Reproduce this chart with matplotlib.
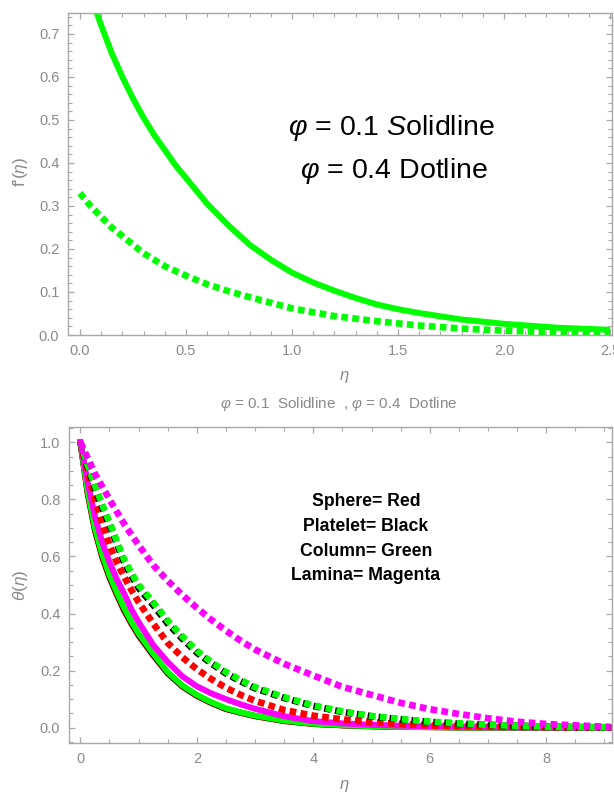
import matplotlib
matplotlib.use("Agg")
import matplotlib.pyplot as plt
from matplotlib.ticker import MultipleLocator

plt.rcParams['font.family'] = ['Liberation Sans', 'DejaVu Sans']
plt.rcParams['mathtext.fontset'] = 'custom'
plt.rcParams['mathtext.rm'] = 'Liberation Sans'
plt.rcParams['mathtext.it'] = 'Liberation Sans:italic'
plt.rcParams['mathtext.bf'] = 'Liberation Sans:bold'

# ---------------- data: top panel f'(eta) ----------------
eta_top_s = [0.0, 0.05, 0.1, 0.15, 0.2, 0.25, 0.3, 0.35, 0.4, 0.45, 0.5, 0.6, 0.7, 0.8,
             0.9, 1.0, 1.1, 1.2, 1.3, 1.4, 1.5, 1.6, 1.8, 2.0, 2.25, 2.5]
fp_phi01 = [0.87, 0.79, 0.72, 0.655, 0.60, 0.55, 0.505, 0.465, 0.43, 0.395, 0.365, 0.305,
            0.255, 0.21, 0.175, 0.145, 0.122, 0.103, 0.086, 0.071, 0.060, 0.051, 0.036,
            0.026, 0.017, 0.012]
eta_top_d = [0.0, 0.05, 0.1, 0.15, 0.2, 0.25, 0.3, 0.4, 0.5, 0.6, 0.7, 0.8, 0.9, 1.0,
             1.2, 1.4, 1.6, 1.8, 2.0, 2.25, 2.5]
fp_phi04 = [0.33, 0.30, 0.275, 0.25, 0.23, 0.21, 0.19, 0.16, 0.138, 0.118, 0.102, 0.088,
            0.075, 0.062, 0.044, 0.032, 0.022, 0.015, 0.010, 0.006, 0.004]

# ---------------- data: bottom panel theta(eta) ----------------
eta_bot = [0.0, 0.125, 0.25, 0.375, 0.5, 0.625, 0.75, 0.875, 1.0, 1.25, 1.5, 1.75, 2.0,
           2.25, 2.5, 2.75, 3.0, 3.5, 4.0, 4.5, 5.0, 5.5, 6.0, 6.5, 7.0, 7.5, 8.0, 8.5, 9.1]
# phi = 0.1 (solid)
sphere_s = [1.0, 0.82, 0.69, 0.597, 0.525, 0.466, 0.41, 0.364, 0.322, 0.253, 0.19, 0.144,
            0.111, 0.086, 0.065, 0.052, 0.040, 0.023, 0.013, 0.008, 0.005, 0.003, 0.002,
            0.001, 0.001, 0.0, 0.0, 0.0, 0.0]
platelet_s = [1.0, 0.825, 0.695, 0.602, 0.53, 0.47, 0.415, 0.368, 0.326, 0.256, 0.192, 0.146,
              0.113, 0.087, 0.066, 0.053, 0.041, 0.024, 0.0135, 0.0085, 0.005, 0.003, 0.002,
              0.001, 0.001, 0.0, 0.0, 0.0, 0.0]
column_s = [1.0, 0.83, 0.70, 0.607, 0.535, 0.475, 0.42, 0.372, 0.33, 0.26, 0.195, 0.148,
            0.115, 0.089, 0.068, 0.054, 0.042, 0.025, 0.014, 0.009, 0.005, 0.003, 0.002,
            0.001, 0.001, 0.0, 0.0, 0.0, 0.0]
lamina_s = [1.0, 0.86, 0.74, 0.65, 0.58, 0.52, 0.47, 0.415, 0.37, 0.29, 0.23, 0.18,
            0.145, 0.12, 0.10, 0.082, 0.066, 0.040, 0.023, 0.015, 0.010, 0.007, 0.005,
            0.003, 0.002, 0.001, 0.001, 0.0, 0.0]
# phi = 0.4 (dotted)
sphere_d = [1.0, 0.895, 0.80, 0.715, 0.64, 0.58, 0.53, 0.483, 0.44, 0.365, 0.297, 0.247,
            0.205, 0.17, 0.14, 0.115, 0.094, 0.062, 0.042, 0.029, 0.019, 0.013, 0.008,
            0.006, 0.004, 0.003, 0.002, 0.001, 0.001]
platelet_d = [1.0, 0.915, 0.84, 0.773, 0.71, 0.645, 0.58, 0.533, 0.49, 0.43, 0.365, 0.312,
              0.263, 0.225, 0.19, 0.163, 0.138, 0.104, 0.076, 0.055, 0.040, 0.029, 0.020,
              0.014, 0.010, 0.007, 0.004, 0.002, 0.001]
column_d = [1.0, 0.92, 0.85, 0.782, 0.72, 0.655, 0.59, 0.543, 0.50, 0.44, 0.375, 0.32,
            0.27, 0.23, 0.195, 0.167, 0.142, 0.107, 0.078, 0.057, 0.041, 0.030, 0.021,
            0.015, 0.010, 0.007, 0.004, 0.002, 0.001]
lamina_d = [1.0, 0.945, 0.89, 0.845, 0.80, 0.757, 0.715, 0.677, 0.64, 0.57, 0.515, 0.465,
            0.42, 0.378, 0.34, 0.305, 0.274, 0.224, 0.183, 0.143, 0.115, 0.087, 0.065,
            0.048, 0.033, 0.021, 0.013, 0.008, 0.003]

shape_labels = ["Sphere= Red", "Platelet= Black", "Column= Green", "Lamina= Magenta"]
top_notes = [r"$\varphi$ = 0.1 $S$olidline", r"$\varphi$ = 0.4 Dotline"]
bottom_title = r"$\varphi$ = 0.1  Solidline  , $\varphi$ = 0.4  Dotline"

GRAY = '#8a8a8a'
FRAME = '#a8a8a8'
W, H = 614, 796
fig = plt.figure(figsize=(W / 100, H / 100), dpi=100)


def px_axes(l, t, r, b):
    return fig.add_axes([l / W, 1 - b / H, (r - l) / W, (b - t) / H])


def style(ax):
    for s in ax.spines.values():
        s.set_color(FRAME)
        s.set_linewidth(1.0)
    ax.tick_params(which='both', direction='in', top=True, right=True,
                   colors=FRAME, labelcolor=GRAY, labelsize=10.5, pad=6.5)
    ax.tick_params(which='major', length=4.5, width=0.9)
    ax.tick_params(which='minor', length=2.6, width=0.8)
    ax.tick_params(axis='x', which='both', labeltop=False)
    ax.tick_params(axis='y', which='both', labelright=False)


DOT = (0, (1.0, 0.65))
LWS = 4.3
LWD = 4.8

# ---------------- top panel ----------------
ax1 = px_axes(68.3, 12.7, 612, 335)
ax1.plot(eta_top_s, fp_phi01, color='#00ff00', lw=LWS, solid_capstyle='butt',
         solid_joinstyle='round')
ax1.plot(eta_top_d, fp_phi04, color='#00ff00', lw=LWD, linestyle=DOT, dash_capstyle='butt')
ax1.set_xlim(-0.055, 2.509)
ax1.set_ylim(0.0, 0.7495)
ax1.xaxis.set_minor_locator(MultipleLocator(0.1))
ax1.yaxis.set_major_locator(MultipleLocator(0.1))
ax1.yaxis.set_minor_locator(MultipleLocator(0.02))
ax1.set_xticks([0.0, 0.5, 1.0, 1.5, 2.0, 2.5])
ax1.set_xticklabels(["0.0", "0.5", "1.0", "1.5", "2.0", "2.5"])
style(ax1)
fig.text(392 / W, 1 - 128 / H, top_notes[0], ha='center', va='center', fontsize=20.5, color='black')
fig.text(394 / W, 1 - 171 / H, top_notes[1], ha='center', va='center', fontsize=20.5, color='black')
fig.text(344 / W, 1 - 377 / H, r"$\eta$", ha='center', va='center', fontsize=12, color=GRAY)
fig.text(21 / W, 1 - 172 / H, r"f'($\eta$)", ha='center', va='center', fontsize=12.5,
         color=GRAY, rotation=90)

# ---------------- bottom panel ----------------
ax2 = px_axes(69.3, 426.7, 612, 742.7)
for vals, col in [(sphere_s, '#ff0000'), (platelet_s, 'black'),
                  (column_s, '#00ff00'), (lamina_s, '#ff00ff')]:
    ax2.plot(eta_bot, vals, color=col, lw=LWS, solid_joinstyle='round')
for vals, col in [(sphere_d, '#ff0000'), (platelet_d, 'black'),
                  (column_d, '#00ff00'), (lamina_d, '#ff00ff')]:
    ax2.plot(eta_bot, vals, color=col, lw=LWD, linestyle=DOT, dash_capstyle='butt')
ax2.set_xlim(-0.19, 9.13)
ax2.set_ylim(-0.0526, 1.0547)
ax2.xaxis.set_major_locator(MultipleLocator(2))
ax2.xaxis.set_minor_locator(MultipleLocator(0.5))
ax2.yaxis.set_minor_locator(MultipleLocator(0.05))
ax2.set_yticks([0.0, 0.2, 0.4, 0.6, 0.8, 1.0])
ax2.set_yticklabels(["0.0", "0.2", "0.4", "0.6", "0.8", "1.0"])
style(ax2)
for i, lab in enumerate(shape_labels):
    fig.text(366 / W, 1 - (502 + 24.5 * i) / H, lab, ha='center', va='center',
             fontsize=12.7, fontweight='bold', color='black')
fig.text(339 / W, 1 - 404 / H, bottom_title, ha='center', va='center', fontsize=11, color=GRAY)
fig.text(344 / W, 1 - 786 / H, r"$\eta$", ha='center', va='center', fontsize=12, color=GRAY)
fig.text(21 / W, 1 - 585 / H, r"$\theta$($\eta$)", ha='center', va='center', fontsize=12.5,
         color=GRAY, rotation=90)

fig.savefig("out.png", dpi=100)
